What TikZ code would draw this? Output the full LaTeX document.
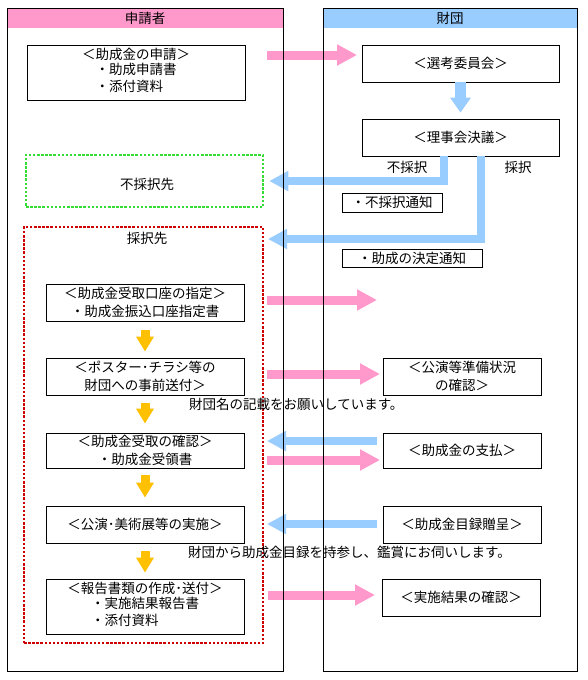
\documentclass[tikz,border=0pt]{standalone}
\usepackage{fontspec}
\setmainfont{Noto Sans CJK JP}
\usetikzlibrary{arrows.meta}
\definecolor{hpink}{HTML}{FF99CC}
\definecolor{hblue}{HTML}{99CCFF}
\definecolor{ayellow}{HTML}{FFC000}
\definecolor{dgreen}{HTML}{33DD33}
\definecolor{dred}{HTML}{CC0000}
\begin{document}
\begin{tikzpicture}[x=1pt,y=-1pt,
  txt/.style={font=\fontsize{13.5}{17.5}\selectfont, inner sep=0pt},
  box/.style={draw, line width=0.9pt, inner sep=0pt, align=center, fill=white,
    font=\fontsize{13.5}{17.5}\selectfont},
  dotbox/.style={line width=2.5pt, dash pattern=on 2.5pt off 1.6pt, inner sep=0pt},
  pinkarrow/.style={color=hpink, line width=9pt, -{Triangle[length=20pt,width=20pt]}},
  bluearrow/.style={color=hblue, line width=8pt, line join=miter, -{Triangle[length=19pt,width=19pt]}},
  bluedown/.style={color=hblue, line width=11pt, -{Triangle[length=15pt,width=20pt]}},
  yelarrow/.style={color=ayellow, line width=9pt, -{Triangle[length=15pt,width=17pt]}},
  colframe/.style={draw, line width=0.9pt}
]
\useasboundingbox (0,0) rectangle (588,680);
\fill[white] (0,0) rectangle (588,680);
% headers
\fill[hpink] (7,8) rectangle (283,28);
\fill[hblue] (323,8) rectangle (577,28);
\node[txt] (hleft) at (145,18) {申請者};
\node[txt] (hright) at (450,18) {財団};

% left column nodes
\node[box, minimum width=218pt, minimum height=55pt] (apply) at (136,72.5)
  {＜助成金の申請＞\\\begin{tabular}{@{}l@{}}・助成申請書\\・添付資料\end{tabular}};
\node[dotbox, draw=dgreen, minimum width=237pt, minimum height=52pt] (reject) at (144.5,181) {};
\node[txt] (rejectlbl) at (147,184) {不採択先};
\node[dotbox, draw=dred, minimum width=239pt, minimum height=416pt] (accept) at (143.5,435) {};
\node[txt] (acceptlbl) at (147,238) {採択先};

\node[box, minimum width=198pt, minimum height=37pt] (acct) at (145,302.5)
  {＜助成金受取口座の指定＞\\・助成金振込口座指定書};
\node[box, minimum width=198pt, minimum height=37pt] (poster) at (145,376.5)
  {＜ポスター･チラシ等の\\財団への事前送付＞};
\node[box, minimum width=198pt, minimum height=35pt] (recv) at (145,450.5)
  {＜助成金受取の確認＞\\・助成金受領書};
\node[box, minimum width=198pt, minimum height=37pt] (perf) at (145,524.5)
  {＜公演･美術展等の実施＞};
\node[box, minimum width=198pt, minimum height=55pt] (report) at (145,606.5)
  {＜報告書類の作成･送付＞\\\begin{tabular}{@{}l@{}}・実施結果報告書\\・添付資料\end{tabular}};

% right column nodes
\node[box, minimum width=197pt, minimum height=37pt] (sel) at (460.5,63.5) {＜選考委員会＞};
\node[box, minimum width=197pt, minimum height=37pt] (board) at (460.5,137.5) {＜理事会決議＞};
\node[txt] (lblno) at (407,167) {不採択};
\node[txt] (lblyes) at (518,167) {採択};
\node[box, minimum width=100pt, minimum height=19pt] (note1) at (392,202.5) {・不採択通知};
\node[box, minimum width=140pt, minimum height=18pt] (note2) at (412,258) {・助成の決定通知};
\node[box, minimum width=158pt, minimum height=37pt] (prep) at (462,376.5) {＜公演等準備状況\\の確認＞};
\node[box, minimum width=158pt, minimum height=35pt] (pay) at (462,450.5) {＜助成金の支払＞};
\node[box, minimum width=158pt, minimum height=37pt] (gift) at (462,524.5) {＜助成金目録贈呈＞};
\node[box, minimum width=158pt, minimum height=37pt] (result) at (461,597.5) {＜実施結果の確認＞};

% annotations
\node[txt, anchor=west] (ann1) at (189,404) {財団名の記載をお願いしています。};
\node[txt, anchor=west] (ann2) at (188,552) {財団から助成金目録を持参し、鑑賞にお伺いします。};

% arrow end coordinates
\coordinate (p1s) at (267,55);  \coordinate (p1e) at (357,55);
\coordinate (p2s) at (267,300); \coordinate (p2e) at (377,300);
\coordinate (p3s) at (267,374); \coordinate (p3e) at (380,374);
\coordinate (p4s) at (267,460); \coordinate (p4e) at (380,460);
\coordinate (p5s) at (268,595); \coordinate (p5e) at (375,595);
\coordinate (b1e) at (267,441); \coordinate (b1s) at (377,441);
\coordinate (b2e) at (267,524); \coordinate (b2s) at (377,524);
\coordinate (accin) at (268,239);

% pink arrows
\draw[pinkarrow] (p1s) -- (p1e);
\draw[pinkarrow] (p2s) -- (p2e);
\draw[pinkarrow] (p3s) -- (p3e);
\draw[pinkarrow] (p4s) -- (p4e);
\draw[pinkarrow] (p5s) -- (p5e);

% blue arrows
\draw[bluedown] (sel.south) -- ([yshift=6pt]board.north);
\draw[bluearrow] ([xshift=-16.5pt]board.south) |- ([xshift=5pt]reject.east);
\draw[bluearrow] ([xshift=20.5pt]board.south) |- (accin);
\draw[bluearrow] (b1s) -- (b1e);
\draw[bluearrow] (b2s) -- (b2e);

% yellow arrows
\draw[yelarrow] ([yshift=-9pt]acct.south) -- ([yshift=6pt]poster.north);
\draw[yelarrow] ([yshift=-8pt]poster.south) -- ([yshift=9pt]recv.north);
\draw[yelarrow] ([yshift=-7pt]recv.south) -- ([yshift=8pt]perf.north);
\draw[yelarrow] ([yshift=-8pt]perf.south) -- ([yshift=6pt]report.north);

% column frames on top
\draw[colframe] (7,8) rectangle (283,671);
\draw[colframe] (323,8) rectangle (577,671);
\end{tikzpicture}
\end{document}
